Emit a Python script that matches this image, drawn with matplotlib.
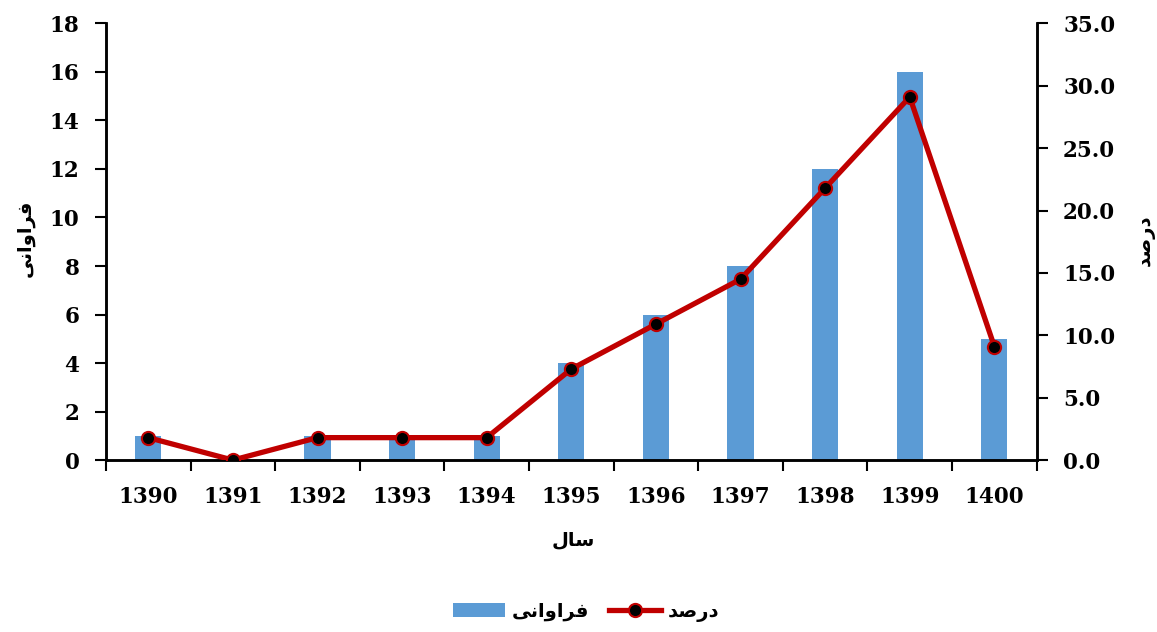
import matplotlib
matplotlib.use("Agg")
import matplotlib.pyplot as plt
from matplotlib.ticker import FormatStrFormatter

years = ["1390", "1391", "1392", "1393", "1394", "1395", "1396", "1397", "1398", "1399", "1400"]
freq = [1, 0, 1, 1, 1, 4, 6, 8, 12, 16, 5]
percent = [1.8, 0.0, 1.8, 1.8, 1.8, 7.3, 10.9, 14.5, 21.8, 29.1, 9.1]

# Persian labels written in visual order with presentation forms (no shaping in matplotlib)
lbl_freq = "\uFBFD\uFEE7\uFE8D\uFEED\uFE8D\uFEAE\uFED3"   # فراوانی
lbl_pct = "\uFEAA\uFEBB\uFEAD\uFEA9"                       # درصد
lbl_year = "\uFEDD\uFE8E\uFEB3"                            # سال

num_font = dict(family="DejaVu Serif", weight="bold", size=15.5)
fa_font = dict(family="DejaVu Sans", weight="bold", size=14)

fig = plt.figure(figsize=(11.57, 6.32), dpi=100)
ax = fig.add_axes([0.0916, 0.272, 0.8044, 0.691])
ax2 = ax.twinx()

x = list(range(len(years)))
bars = ax.bar(x, freq, width=0.31, color="#5B9BD5", label=lbl_freq, zorder=2)
line, = ax2.plot(x, percent, color="#C00000", lw=3.8, marker="o", markersize=9.5,
                 markerfacecolor="black", markeredgecolor="#C00000", markeredgewidth=1.5,
                 label=lbl_pct, zorder=3)

ax.set_xlim(-0.5, len(years) - 0.5)
ax.set_ylim(0, 18)
ax2.set_ylim(0, 35)
ax.set_yticks(range(0, 19, 2))
ax2.set_yticks(range(0, 36, 5))
ax2.yaxis.set_major_formatter(FormatStrFormatter("%.1f"))

# ticks between categories, labels at category centres
ax.set_xticks([i - 0.5 for i in range(len(years) + 1)])
ax.set_xticklabels([])
ax.set_xticks(x, minor=True)
ax.set_xticklabels(years, minor=True, fontdict=num_font)
ax.tick_params(axis="x", which="major", direction="out", length=8, width=1.5)
ax.tick_params(axis="x", which="minor", length=0, pad=19)

for a in (ax, ax2):
    a.tick_params(axis="y", direction="out", length=8, width=1.5, pad=11)
    for sp in a.spines.values():
        sp.set_linewidth(1.8)
    a.spines["top"].set_visible(False)
for t in ax.get_yticklabels() + ax2.get_yticklabels():
    t.set_fontfamily("DejaVu Serif")
    t.set_fontweight("bold")
    t.set_fontsize(15.5)

ax2.set_zorder(ax.get_zorder() + 1)
ax2.patch.set_visible(False)

fig.text(25 / 1157, 1 - 238 / 632, lbl_freq, rotation=90, ha="center", va="center", **fa_font)
fig.text(1145 / 1157, 1 - 240 / 632, lbl_pct, rotation=90, ha="center", va="center", **fa_font)
fig.text(573 / 1157, 1 - 540 / 632, lbl_year, ha="center", va="center", **fa_font)

fig.legend([bars, line], [lbl_freq, lbl_pct], loc="center", bbox_to_anchor=(586 / 1157, 1 - 612 / 632),
           ncol=2, frameon=False, prop=dict(family="DejaVu Sans", weight="bold", size=14),
           handlelength=2.7, columnspacing=1.0, handletextpad=0.35)

fig.savefig("out.png", dpi=100)
